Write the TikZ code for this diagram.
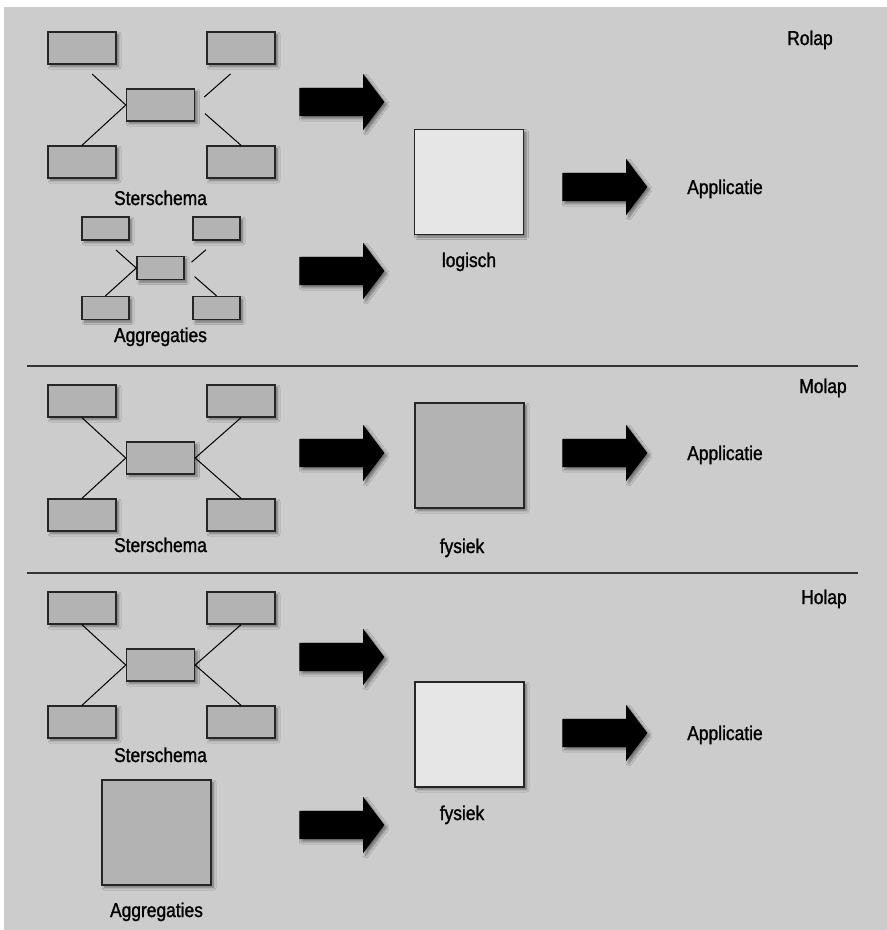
\documentclass[tikz,border=0pt]{standalone}
\usepackage{fontspec}
\setmainfont{Liberation Sans}[FakeStretch=0.87,FakeBold=1.3]
\usetikzlibrary{shapes.arrows,shadows.blur,calc}
\definecolor{bg}{HTML}{CCCCCC}
\definecolor{boxgray}{HTML}{B3B3B3}
\definecolor{boxlight}{HTML}{E6E6E6}
\tikzset{
 shad/.style={blur shadow={shadow xshift=2.5pt, shadow yshift=-2.5pt, shadow blur steps=6, shadow blur radius=2.5pt, shadow opacity=45}},
 tbl/.style={draw=black!85, line width=1.4pt, fill=boxgray, shad, inner sep=0pt, minimum width=68pt, minimum height=32pt},
 stbl/.style={tbl, minimum width=47pt, minimum height=23pt},
 cube/.style={draw=black!85, line width=1.4pt, shad, inner sep=0pt, minimum width=109pt, minimum height=105pt},
 fatarrow/.style={single arrow, fill=black, draw=none, shad, inner xsep=0pt, inner ysep=14pt, minimum height=85pt, minimum width=56pt, single arrow head extend=14pt, single arrow tip angle=106},
 lbl/.style={anchor=base, inner sep=0pt, font=\fontsize{20}{24}\selectfont},
 link/.style={line width=1pt, draw=black},
 sep/.style={line width=1.2pt, draw=black!80},
}
\begin{document}
\begin{tikzpicture}[x=1pt,y=-1pt]
\useasboundingbox (0,0) rectangle (887,930);
\fill[bg] (4,7) rectangle (887,930);
% separators
\draw[sep] (27,366) -- (858,366);
\draw[sep] (27,573) -- (858,573);

% ===== Rolap =====
\begin{scope}[shift={(0,32)}, name prefix=r-]
\node[tbl] (tl) at (82,16) {};
\node[tbl] (tr) at (241,16) {};
\node[tbl] (c) at (160.5,73) {};
\node[tbl] (bl) at (82,130) {};
\node[tbl] (br) at (241,130) {};
\draw[link, shorten <=14pt] (tl.south) -- (c.west);
\draw[link] (bl.north) -- (c.west);
\draw[link, shorten <=14pt, shorten >=12pt] (tr.south) -- (c.east);
\draw[link, shorten <=13pt] (c.east) -- (br.north);
\node[lbl] (lab) at (160.5,173) {Sterschema};
\end{scope}
\begin{scope}[name prefix=ra-]
\node[stbl] (tl) at (105.5,228.5) {};
\node[stbl] (tr) at (216.5,228.5) {};
\node[stbl] (c) at (160.5,268) {};
\node[stbl] (bl) at (105.5,308) {};
\node[stbl] (br) at (216.5,308) {};
\draw[link, shorten <=14pt] (tl.south) -- (c.west);
\draw[link] (bl.north) -- (c.west);
\draw[link, shorten <=14pt, shorten >=9pt] (tr.south) -- (c.east);
\draw[link, shorten <=13pt] (c.east) -- (br.north);
\node[lbl] (lab) at (160.5,342) {Aggregaties};
\end{scope}
\node[fatarrow] (ra1) at (336.5,102) {};
\node[fatarrow] (ra2) at (336.5,271) {};
\node[cube, fill=boxlight] (rlog) at (469,182) {};
\node[lbl] (rloglab) at (469,267) {logisch};
\node[fatarrow] (ra3) at (599.5,187) {};
\node[lbl] (rapp) at (725,194) {Applicatie};
\node[lbl] (rolap) at (810,45) {Rolap};

% ===== Molap =====
\begin{scope}[shift={(0,385)}, name prefix=m-]
\node[lbl] (lab) at (160.5,167) {Sterschema};
\node[tbl] (tl) at (82,16) {};
\node[tbl] (tr) at (241,16) {};
\node[tbl] (c) at (160.5,73) {};
\node[tbl] (bl) at (82,130) {};
\node[tbl] (br) at (241,130) {};
\draw[link] (tl.south) -- (c.west);
\draw[link] (bl.north) -- (c.west);
\draw[link] (tr.south) -- (c.east);
\draw[link] (c.east) -- (br.north);
\end{scope}
\node[fatarrow] (ma1) at (336.5,453) {};
\node[cube, fill=boxgray] (mfys) at (469.5,455.5) {};
\node[lbl] (mfyslab) at (462,553) {fysiek};
\node[fatarrow] (ma2) at (599.5,453) {};
\node[lbl] (mapp) at (725,460) {Applicatie};
\node[lbl] (molap) at (823,393) {Molap};

% ===== Holap =====
\begin{scope}[shift={(0,592)}, name prefix=h-]
\node[tbl] (tl) at (82,16) {};
\node[tbl] (tr) at (241,16) {};
\node[tbl] (c) at (160.5,73) {};
\node[tbl] (bl) at (82,130) {};
\node[tbl] (br) at (241,130) {};
\draw[link] (tl.south) -- (c.west);
\draw[link] (bl.north) -- (c.west);
\draw[link] (tr.south) -- (c.east);
\draw[link] (c.east) -- (br.north);
\node[lbl] (lab) at (160.5,170) {Sterschema};
\end{scope}
\node[cube, fill=boxgray] (hagg) at (156.5,832.5) {};
\node[lbl] (hagglab) at (156.5,917) {Aggregaties};
\node[fatarrow] (ha1) at (336.5,657) {};
\node[fatarrow] (ha2) at (336.5,825) {};
\node[cube, fill=boxlight] (hfys) at (469.5,734.5) {};
\node[lbl] (hfyslab) at (462,820) {fysiek};
\node[fatarrow] (ha3) at (599.5,733) {};
\node[lbl] (happ) at (725,740) {Applicatie};
\node[lbl] (holap) at (824,604) {Holap};
\end{tikzpicture}
\end{document}
